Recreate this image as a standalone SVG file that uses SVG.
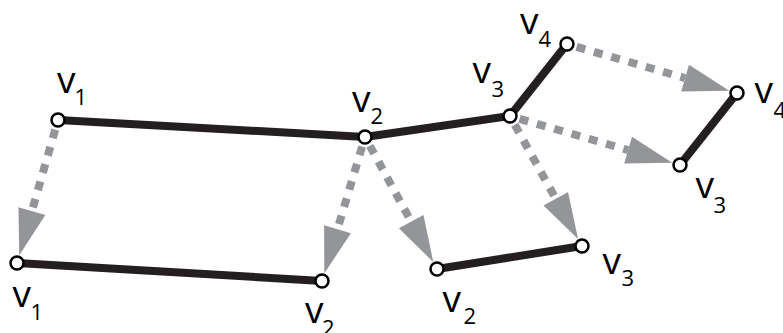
<svg xmlns="http://www.w3.org/2000/svg" width="783" height="333" viewBox="0 0 783 333">
<style>
.edge{stroke:#231f20;stroke-width:8;stroke-linecap:butt;fill:none}
.map{stroke:#939598;stroke-width:8;stroke-dasharray:9 9;fill:none;marker-end:url(#ah)}
.node{fill:#fff;stroke:#000;stroke-width:2.5}
.lbl{font-family:"Open Sans","Noto Sans",sans-serif;font-size:37px;fill:#000}
.sub{font-size:22px}
</style>
<defs>
<marker id="ah" markerUnits="userSpaceOnUse" orient="auto" refX="0" refY="0" markerWidth="50" markerHeight="30" viewBox="0 -15 50 30" overflow="visible">
<path d="M0,-14 L46,0 L0,14 z" fill="#939598"/>
</marker>
</defs>
<g id="connectors">
<line class="edge" x1="58" y1="120" x2="365" y2="137"/>
<line class="edge" x1="365" y1="137" x2="510" y2="116"/>
<line class="edge" x1="510" y1="116" x2="567" y2="44"/>
<line class="edge" x1="737" y1="93" x2="680" y2="165"/>
<line class="edge" x1="17" y1="263" x2="322" y2="281"/>
<line class="edge" x1="437" y1="269" x2="582" y2="246"/>
<line class="map" x1="55.2" y1="129.6" x2="31.9" y2="211.1"/>
<line class="map" x1="362.1" y1="146.6" x2="337.5" y2="229.2"/>
<line class="map" x1="369.8" y1="145.8" x2="411.2" y2="221.6"/>
<line class="map" x1="514.8" y1="124.7" x2="555.8" y2="198.8"/>
<line class="map" x1="519.6" y1="118.8" x2="628.1" y2="150.1"/>
<line class="map" x1="576.6" y1="46.8" x2="685.1" y2="78.1"/>
</g>
<g id="n_v1_top"><circle class="node" cx="58" cy="120" r="6.5"/><text class="lbl" x="57" y="93">v<tspan class="sub" x="74.5" y="105">1</tspan></text></g>
<g id="n_v2_top"><circle class="node" cx="365" cy="137" r="6.5"/><text class="lbl" x="352" y="112">v<tspan class="sub" x="370.5" y="124">2</tspan></text></g>
<g id="n_v3_top"><circle class="node" cx="510" cy="116" r="6.5"/><text class="lbl" x="472.5" y="83">v<tspan class="sub" x="491.5" y="97">3</tspan></text></g>
<g id="n_v4_top"><circle class="node" cx="567" cy="44" r="6.5"/><text class="lbl" x="520" y="34">v<tspan class="sub" x="538.5" y="47">4</tspan></text></g>
<g id="n_v4_right"><circle class="node" cx="737" cy="93" r="6.5"/><text class="lbl" x="754.5" y="103">v<tspan class="sub" x="773.5" y="118">4</tspan></text></g>
<g id="n_v3_right"><circle class="node" cx="680" cy="165" r="6.5"/><text class="lbl" x="695.5" y="198">v<tspan class="sub" x="713.5" y="213">3</tspan></text></g>
<g id="n_v1_bottom"><circle class="node" cx="17" cy="263" r="6.5"/><text class="lbl" x="12.5" y="307">v<tspan class="sub" x="30.5" y="320">1</tspan></text></g>
<g id="n_v2_bottom"><circle class="node" cx="322" cy="281" r="6.5"/><text class="lbl" x="305" y="323">v<tspan class="sub" x="322" y="336">2</tspan></text></g>
<g id="n_v2_mid"><circle class="node" cx="437" cy="269" r="6.5"/><text class="lbl" x="442.5" y="312">v<tspan class="sub" x="463.5" y="324">2</tspan></text></g>
<g id="n_v3_mid"><circle class="node" cx="582" cy="246" r="6.5"/><text class="lbl" x="602.5" y="274">v<tspan class="sub" x="621.5" y="286">3</tspan></text></g>
</svg>
